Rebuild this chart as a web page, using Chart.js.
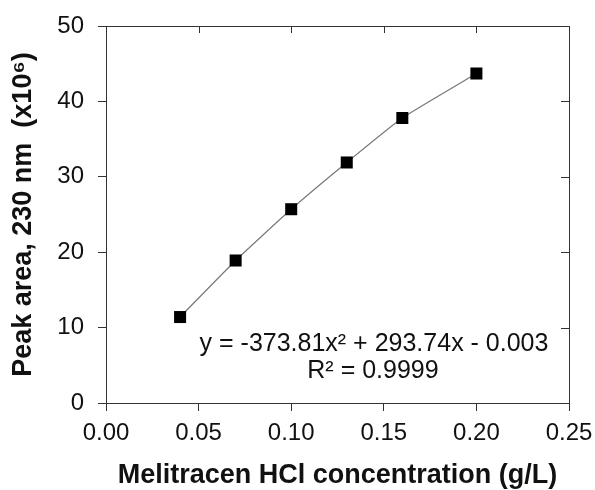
<!DOCTYPE html>
<html>
<head>
<meta charset="utf-8">
<script src="https://cdn.jsdelivr.net/npm/chart.js@4/dist/chart.umd.min.js"></script>
<style>
  html, body { margin: 0; padding: 0; background: #fff; }
</style>
</head>
<body>
<canvas id="calibration" width="595" height="490"></canvas>
<script>
// Calibration data
const concentrations = [0.04, 0.07, 0.10, 0.13, 0.16, 0.20];
const peakAreas = [11.4, 18.9, 25.7, 31.9, 37.8, 43.7];
const xTicks = [0, 0.05, 0.10, 0.15, 0.20, 0.25];
const yTicks = [0, 10, 20, 30, 40, 50];
const fitLines = ['y = -373.81x\u00B2 + 293.74x - 0.003', 'R\u00B2 = 0.9999'];

const FONT = "'Liberation Sans', Arial, sans-serif";
const AXIS = '#333';

// mirrored box: top and right edges with inward ticks, plus fit equation
const frameAndText = {
  id: 'frameAndText',
  afterDraw(chart) {
    const { ctx, chartArea: a, scales: { x, y } } = chart;
    ctx.save();
    ctx.strokeStyle = AXIS;
    ctx.lineWidth = 1;
    ctx.beginPath();
    ctx.moveTo(a.left, a.top + 0.5);
    ctx.lineTo(a.right + 0.5, a.top + 0.5);
    ctx.lineTo(a.right + 0.5, a.bottom);
    xTicks.forEach(v => {
      const px = Math.round(x.getPixelForValue(v)) + 0.5;
      ctx.moveTo(px, a.top);
      ctx.lineTo(px, a.top + 7);
    });
    yTicks.forEach(v => {
      const py = Math.round(y.getPixelForValue(v)) + 0.5;
      ctx.moveTo(a.right, py);
      ctx.lineTo(a.right - 8, py);
    });
    ctx.stroke();

    ctx.fillStyle = '#111';
    ctx.font = '25px ' + FONT;
    ctx.textAlign = 'center';
    ctx.textBaseline = 'middle';
    const cx = x.getPixelForValue(0.1447);
    ctx.fillText(fitLines[0], cx, y.getPixelForValue(7.8));
    ctx.fillText(fitLines[1], cx - 1, y.getPixelForValue(4.2));
    ctx.restore();
  }
};

const config = {
  type: 'scatter',
  data: {
    datasets: [{
      label: 'Peak area',
      data: concentrations.map((c, i) => ({ x: c, y: peakAreas[i] })),
      showLine: true,
      borderColor: '#777',
      borderWidth: 1.2,
      tension: 0.15,
      pointStyle: 'rect',
      pointRadius: 8.5,
      pointBackgroundColor: '#000',
      pointBorderWidth: 0
    }]
  },
  options: {
    responsive: false,
    animation: false,
    layout: { padding: { left: 0, right: 26, top: 26, bottom: 0 } },
    plugins: {
      legend: { display: false },
      tooltip: { enabled: false }
    },
    scales: {
      x: {
        type: 'linear',
        min: 0,
        max: 0.25,
        afterFit: s => { s.height = 87; s.paddingLeft = 0; s.paddingRight = 0; },
        afterBuildTicks: s => { s.ticks = xTicks.map(v => ({ value: v })); },
        ticks: {
          color: '#111',
          padding: 8,
          font: { family: FONT, size: 24 },
          callback: v => v.toFixed(2)
        },
        grid: { drawOnChartArea: false, drawTicks: true, tickLength: 8, color: AXIS },
        border: { color: AXIS, width: 1 },
        title: {
          display: true,
          text: 'Melitracen HCl concentration (g/L)',
          color: '#111',
          padding: { top: 0, bottom: 0.5 },
          font: { family: FONT, size: 27, weight: 'bold', lineHeight: 1 }
        }
      },
      y: {
        min: 0,
        max: 50,
        afterFit: s => { s.width = 106; s.paddingTop = 0; s.paddingBottom = 0; },
        afterBuildTicks: s => { s.ticks = yTicks.map(v => ({ value: v })); },
        ticks: {
          color: '#111',
          padding: 14,
          font: { family: FONT, size: 24 }
        },
        grid: { drawOnChartArea: false, drawTicks: true, tickLength: 8, color: AXIS },
        border: { color: AXIS, width: 1 },
        title: {
          display: true,
          text: 'Peak area, 230 nm  (x10\u2076)',
          color: '#111',
          padding: { top: 10.5, bottom: 0 },
          font: { family: FONT, size: 27, weight: 'bold', lineHeight: 1 }
        }
      }
    }
  },
  plugins: [frameAndText]
};

new Chart(document.getElementById('calibration').getContext('2d'), config);
</script>
</body>
</html>
